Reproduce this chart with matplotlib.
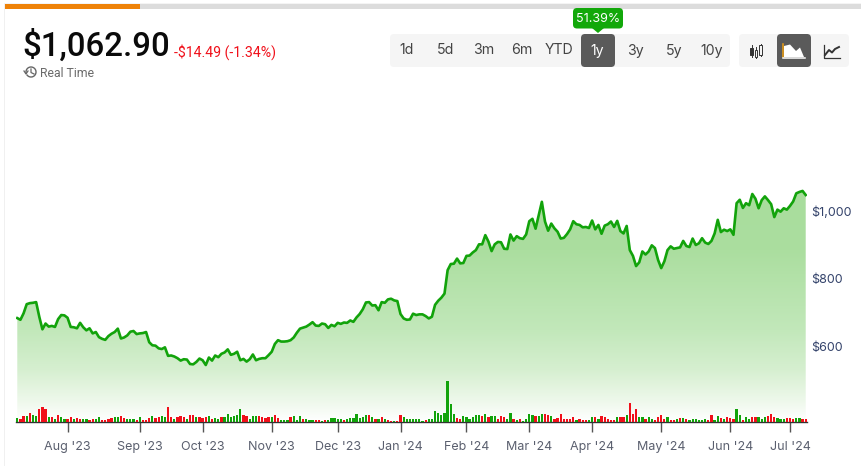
import matplotlib
matplotlib.use("Agg")
import matplotlib.pyplot as plt
import numpy as np
from matplotlib.colors import LinearSegmentedColormap
from matplotlib.patches import FancyBboxPatch, Rectangle, Polygon, Arc

prices = [
 685,680,699,726,729,730,732,689,652,669,
 660,662,659,682,694,693,686,659,658,655,
 671,658,649,655,640,644,629,624,621,632,
 639,644,654,625,628,634,645,647,638,640,
 641,644,614,605,604,596,594,599,574,575,
 572,567,560,564,563,550,549,556,566,561,
 547,569,560,575,570,580,584,593,577,580,
 586,561,565,557,564,578,561,565,567,567,
 576,586,609,620,616,616,617,620,628,642,
 654,657,660,666,673,663,662,669,667,656,
 665,661,671,668,672,671,678,674,687,697,
 711,731,732,722,723,708,732,730,740,742,
 737,735,697,684,680,681,698,694,696,696,
 691,684,689,724,736,745,757,826,844,845,
 860,846,847,868,869,878,885,902,902,929,
 910,882,902,909,908,889,888,931,913,926,
 920,918,931,970,977,948,988,1027,969,942,
 963,949,939,919,921,932,
 946,970,961,959,952,953,950,972,946,959,
 933,957,961,969,953,971,941,934,956,885,
 868,838,849,881,872,881,899,891,856,832,
 852,885,896,889,891,893,912,897,894,919,
 900,905,920,907,903,912,934,974,938,945,
 941,946,930,1023,1033,1009,1023,1017,1050,1036,
 1008,1032,1043,1032,1020,982,1004,998,1008,1004,
 1015,1028,1052,1056,1059,1047]

volumes = [
 11,8,17,18,28,21,18,38,45,39,
 15,14,9,21,14,8,8,14,10,11,
 10,8,10,7,10,10,14,7,6,8,
 12,15,15,18,13,10,8,10,7,14,
 7,7,11,18,13,15,18,15,45,14,
 10,15,18,15,8,22,22,15,14,11,
 14,17,8,13,10,14,14,24,15,17,
 20,38,22,17,8,17,18,17,14,11,
 14,14,22,12,6,6,6,15,18,7,
 18,9,8,7,6,6,6,4,5,7,
 11,11,10,10,7,9,11,11,24,11,
 14,21,21,14,8,8,14,10,7,4,
 3,3,21,14,10,9,8,9,8,4,
 5,8,10,34,27,21,27,122,55,25,
 12,10,18,14,10,14,21,21,17,24,
 15,17,17,9,18,15,10,28,10,6,
 10,4,10,25,21,18,17,24,24,21,
 18,10,11,25,10,10,10,15,7,10,
 7,6,7,14,15,10,18,14,10,6,
 7,14,14,15,21,58,25,38,14,14,
 10,14,10,6,14,21,10,14,7,6,
 8,11,11,10,6,10,10,6,6,10,
 7,21,6,17,11,10,15,11,10,38,
 21,6,14,10,14,14,14,10,14,18,
 24,15,11,10,10,11,11,10,11,11,10,10]

directions = (
 "grrgrggrrr" "grgrggrrgr" "rggrrggrrr" "rggrrgggrg" "rrrgrrggrr"
 "grrrgrrgrr" "rgrggrgggg" "ggrrgggrrr" "rgrrgggrgg" "grgggrrgrg"
 "ggggrggggg" "ggrgrgrgrr" "grrggggggg" "rggggggggg" "rrggggggrg"
 "rggrrrggrg" "rggggrggrr" "grrrrrrrgr" "rrggrgrrrr" "rgrrgrrrgg"
 "rggrrrrgrr" "grgrgggggg" "rrggrgrrrg" "grggrrgggr" "rrgggrrrggrr")

tick_index = [16, 39, 59, 81, 102, 122, 143, 163, 183, 205, 227, 246]
tick_labels = ["Aug '23", "Sep '23", "Oct '23", "Nov '23", "Dec '23", "Jan '24",
               "Feb '24", "Mar '24", "Apr '24", "May '24", "Jun '24", "Jul '24"]
price_ticks = [600, 800, 1000]
price_labels = ["$600", "$800", "$1,000"]
ranges = ["1d", "5d", "3m", "6m", "YTD", "1y", "3y", "5y", "10y"]

W, H = 861, 466
GREEN = "#12a30b"
RED = "#f0101a"
plt.rcParams["font.family"] = ["Roboto", "DejaVu Sans"]
fig = plt.figure(figsize=(W / 100, H / 100), dpi=100, facecolor="white")

# page furniture, in pixel coordinates
ui = fig.add_axes([0, 0, 1, 1], zorder=0)
ui.set_xlim(0, W); ui.set_ylim(H, 0); ui.axis("off")
ui.add_patch(Rectangle((4, 3), W, 2, color="#f4f4f4", lw=0))
ui.add_patch(Rectangle((4, 4), 1, H, color="#f0f0f0", lw=0))
ui.add_patch(Rectangle((5, 4), W, 5, color="#dcdcdc", lw=0))
ui.add_patch(Rectangle((5, 4), 135, 5, color="#ee8208", lw=0))

ui.text(22, 46, "$1,062.90", fontsize=23.8, fontweight="medium", color="#0a0a0a", ha="left", va="center")
ui.text(174, 52.5, "-$14.49 (-1.34%)", fontsize=10.2, color="#f0101a", ha="left", va="center")
ui.text(40, 73.5, "Real Time", fontsize=8.8, color="#6a6a6a", ha="left", va="center")
ui.add_patch(Arc((31, 72), 10, 10, theta1=-200, theta2=150, color="#666666", lw=1))
ui.plot([31, 31, 34], [69, 72.5, 74], color="#666666", lw=0.9)
ui.plot([24, 26, 28], [71, 74, 71], color="#666666", lw=0.9)


def box(x0, y0, x1, y1, color, r=4):
    ui.add_patch(FancyBboxPatch((x0 + r, y0 + r), x1 - x0 - 2 * r, y1 - y0 - 2 * r,
                                boxstyle=f"round,pad={r},rounding_size={r}",
                                fc=color, ec="none", lw=0))


box(390, 34, 730, 67, "#f5f5f5")
box(739, 34, 849, 67, "#f5f5f5")
box(581, 34, 615, 67, "#5a5a5a")
box(777, 34, 811, 67, "#5a5a5a")
box(573, 8, 623, 28.5, "#12a80a")
ui.add_patch(Polygon([[592, 28], [604, 28], [598, 33]], color="#12a80a", lw=0))
ui.text(598, 18.5, "51.39%", fontsize=9, color="white", family="Inter", ha="center", va="center")
for k, lab in enumerate(ranges):
    ui.text(407 + k * 38.12, 50.5, lab, fontsize=10.2, family="Inter", ha="center", va="center",
            color="white" if lab == "1y" else "#444444")

# candle icon
for cx, y0, y1, by0, by1, fc in [(751.5, 45, 57, 48, 55, "#333333"), (756, 47, 58, 50, 57, "#f5f5f5"),
                                 (760.5, 44, 56, 45, 55, "#f5f5f5")]:
    ui.plot([cx, cx], [y0, y1], color="#333333", lw=0.7)
    ui.add_patch(Rectangle((cx - 1.4, by0), 2.8, by1 - by0, fc=fc, ec="#333333", lw=0.7, zorder=3))
# area icon
ui.add_patch(Polygon([[784, 57], [784, 46], [790, 44.5], [796, 51], [800, 47.5], [804, 57]], color="white", lw=0))
ui.plot([783, 783], [44, 57], color="#f0a010", lw=1.1)
ui.plot([783, 805], [58, 58], color="white", lw=1.1)
# line icon
ui.plot([824, 824, 840], [45, 57.5, 57.5], color="#333333", lw=0.9)
ui.plot([825, 829, 832, 835, 839], [55, 50, 52.5, 49, 47], color="#333333", lw=1.4)

# chart
L, R, T, B = 16, 807, 150, 422
rect = [L / W, 1 - B / H, (R - L) / W, (B - T) / H]
ax = fig.add_axes(rect, zorder=1)
ax.patch.set_alpha(0)
idx = np.arange(len(prices))
xlim = (-0.41, 251.41)
ylim = (379.4, 1179.4)

cmap = LinearSegmentedColormap.from_list("area", [
    (0.0, "#ffffff"), (0.081, "#edf8ea"), (0.191, "#d6efd0"), (0.338, "#c2e8ba"),
    (0.632, "#abde9f"), (1.0, "#a6dc9b")])
im = ax.imshow(np.linspace(0, 1, 256).reshape(-1, 1), origin="lower", aspect="auto", cmap=cmap,
               extent=(*xlim, *ylim), zorder=1)
poly = ax.fill_between(idx, prices, ylim[0], facecolor="none", edgecolor="none")
im.set_clip_path(poly.get_paths()[0], transform=ax.transData)
ax.plot(idx, prices, color=GREEN, lw=1.9, zorder=3, solid_joinstyle="round")
ax.set_xlim(xlim); ax.set_ylim(ylim)

for s in ["top", "left", "right"]:
    ax.spines[s].set_visible(False)
ax.spines["bottom"].set_color("#333333")
ax.spines["bottom"].set_linewidth(1)
ax.set_xticks(tick_index)
ax.set_xticklabels(tick_labels, fontsize=9, family="Inter", color="#5a5f6e")
ax.tick_params(axis="x", length=7.5, width=1, color="#555555", pad=6.5)

vx = ax.twinx()
vx.patch.set_alpha(0)
vx.set_ylim(0, (B - T) * 3)
vx.bar(idx, volumes, width=0.72, color=[GREEN if d == "g" else RED for d in directions], lw=0)
vx.set_yticks([])
for s in vx.spines.values():
    s.set_visible(False)

ax.yaxis.tick_right()
ax.set_yticks(price_ticks)
ax.set_yticklabels(price_labels, fontsize=9, family="Inter", color="#34436b")
ax.tick_params(axis="y", length=0, pad=3)

fig.savefig("out.png", dpi=100)
